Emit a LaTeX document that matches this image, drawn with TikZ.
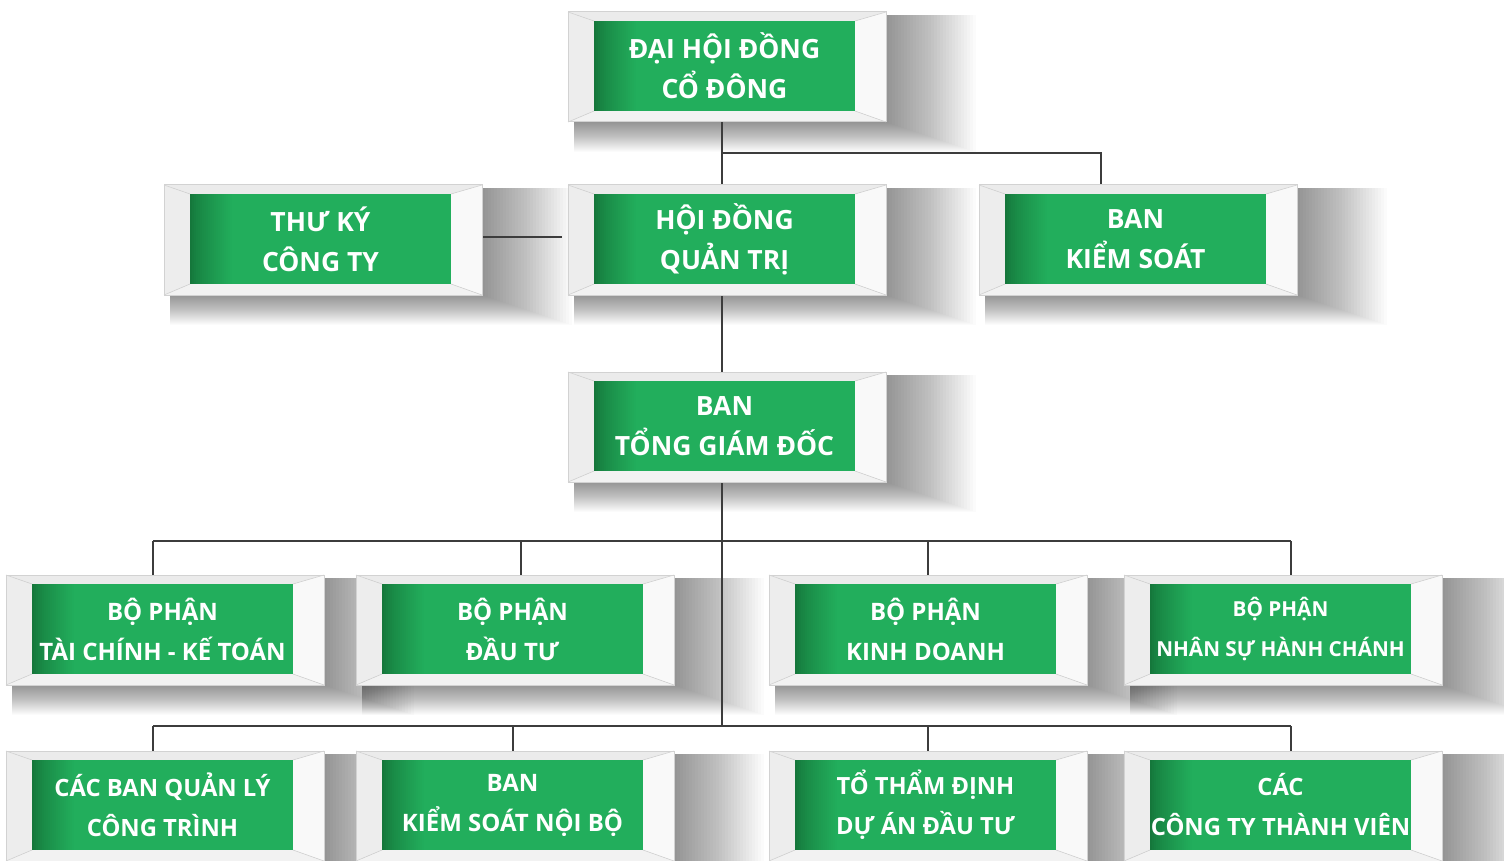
\documentclass[tikz,border=0pt]{standalone}
\usepackage{fontspec}
\setmainfont{Open Sans}
\usetikzlibrary{calc}
\pgfdeclarelayer{bg}
\pgfdeclarelayer{shadow}
\pgfdeclarelayer{lines}
\pgfsetlayers{bg,shadow,lines,main}
\definecolor{gmain}{HTML}{22AE5C}
\definecolor{gdark}{HTML}{15773B}
\definecolor{conncol}{HTML}{3C3C3C}
\definecolor{ftop}{HTML}{EBEBEB}
\definecolor{fright}{HTML}{F9F9F9}
\definecolor{fbottom}{HTML}{F2F2F2}
\definecolor{fleft}{HTML}{EDEDED}
\definecolor{fline}{HTML}{D2D2D2}
\tikzset{
  outerbox/.style={minimum width=318pt, minimum height=110pt, inner sep=0pt, outer sep=0pt},
  greenbox/.style={fill=gmain, minimum width=261pt, minimum height=90pt, inner sep=0pt, outer sep=0pt},
  connector/.style={draw=conncol, line width=2.4pt},
  boxtext/.style={text=white, align=center, inner sep=0pt},
  shadowpiece/.style={fill=black, opacity=0.017},
  bevel/.style={draw=fline, line width=0.6pt},
}
% name, innerX, innerY, fontsize, text
\newcommand\orgbox[5]{%
  \node[outerbox] (#1) at ({#2+133},{#3+46}) {};
  \begin{pgfonlayer}{shadow}
    \foreach \k in {1,...,30}{
      \fill[shadowpiece] ($(#1.north west)+(6,3)$) rectangle ($(#1.south east)+({3*\k},{\k})$);
    }
  \end{pgfonlayer}
  \coordinate (#1-ia) at (#2,#3);
  \coordinate (#1-ib) at ({#2+261},#3);
  \coordinate (#1-ic) at ({#2+261},{#3+90});
  \coordinate (#1-id) at (#2,{#3+90});
  \fill[ftop] (#1.north west) -- (#1.north east) -- (#1-ib) -- (#1-ia) -- cycle;
  \fill[fright] (#1.north east) -- (#1.south east) -- (#1-ic) -- (#1-ib) -- cycle;
  \fill[fbottom] (#1.south east) -- (#1.south west) -- (#1-id) -- (#1-ic) -- cycle;
  \fill[fleft] (#1.south west) -- (#1.north west) -- (#1-ia) -- (#1-id) -- cycle;
  \draw[bevel] (#1.north west) -- (#1-ia) (#1.north east) -- (#1-ib)
               (#1.south east) -- (#1-ic) (#1.south west) -- (#1-id);
  \draw[draw=fline, line width=1pt] (#1.north west) rectangle (#1.south east);
  \node[greenbox] (#1g) at ({#2+130.5},{#3+45}) {};
  \foreach \i in {0,...,21}{
    \pgfmathtruncatemacro\pp{100*(\i/21)^0.75}
    \fill[gmain!\pp!gdark] ($(#1-ia)+({2*\i},0)$) rectangle ($(#1-id)+({2*\i+2.3},0)$);
  }
  \node[boxtext, font=\fontsize{#4pt}{40pt}\selectfont\bfseries] (#1t) at (#1g) {#5};
}
\begin{document}
\begin{tikzpicture}[x=1pt, y=-1pt]
\useasboundingbox (0,0) rectangle (1504,861);
\begin{pgfonlayer}{bg}
\fill[white] (0,0) rectangle (1504,861);
\end{pgfonlayer}

\orgbox{dh}{594}{21}{26.5}{ĐẠI HỘI ĐỒNG\\CỔ ĐÔNG}
\orgbox{tk}{190}{194}{26.5}{THƯ KÝ\\CÔNG TY}
\orgbox{hd}{594}{194}{26.5}{HỘI ĐỒNG\\QUẢN TRỊ}
\orgbox{bks}{1005}{194}{26.5}{BAN\\KIỂM SOÁT}
\orgbox{tgd}{594}{381}{26.5}{BAN\\TỔNG GIÁM ĐỐC}
\orgbox{tc}{32}{584}{24}{BỘ PHẬN\\TÀI CHÍNH - KẾ TOÁN}
\orgbox{dt}{382}{584}{24}{BỘ PHẬN\\ĐẦU TƯ}
\orgbox{kd}{795}{584}{24}{BỘ PHẬN\\KINH DOANH}
\orgbox{ns}{1150}{584}{20.7}{BỘ PHẬN\\NHÂN SỰ HÀNH CHÁNH}
\orgbox{ql}{32}{760}{23.8}{CÁC BAN QUẢN LÝ\\CÔNG TRÌNH}
\orgbox{ksnb}{382}{760}{24}{BAN\\KIỂM SOÁT NỘI BỘ}
\orgbox{td}{795}{760}{23.7}{TỔ THẨM ĐỊNH\\DỰ ÁN ĐẦU TƯ}
\orgbox{ct}{1150}{760}{23.8}{CÁC\\CÔNG TY THÀNH VIÊN}

\begin{pgfonlayer}{lines}
  \coordinate (busTop) at (722,153);
  \coordinate (busA) at (153,541);
  \coordinate (busAR) at (1291,541);
  \coordinate (busB) at (153,726);
  \coordinate (busBR) at (1291,726);
  \draw[connector] ([xshift=-5]dh.south) -- ([xshift=-5]hd.north);
  \draw[connector] ([xshift=-5]hd.south) -- ([xshift=-5]tgd.north);
  \draw[connector] (busTop) -| ([xshift=-37]bks.north);
  \draw[connector, shorten >=6pt] ([yshift=3]tk.east) -- ([yshift=3]hd.west);
  \draw[connector] ([xshift=-5]tgd.south) -- ([xshift=-5]tgd.south |- busB);
  \draw[connector] (busA) -- (busAR);
  \draw[connector] (busB) -- (busBR);
  \draw[connector] ([xshift=-12]tc.north) -- ([xshift=-12]tc.north |- busA);
  \draw[connector] ([xshift=6]dt.north) -- ([xshift=6]dt.north |- busA);
  \draw[connector] (kd.north) -- (kd.north |- busA);
  \draw[connector] ([xshift=8]ns.north) -- ([xshift=8]ns.north |- busA);
  \draw[connector] ([xshift=-12]ql.north) -- ([xshift=-12]ql.north |- busB);
  \draw[connector] ([xshift=-2]ksnb.north) -- ([xshift=-2]ksnb.north |- busB);
  \draw[connector] (td.north) -- (td.north |- busB);
  \draw[connector] ([xshift=8]ct.north) -- ([xshift=8]ct.north |- busB);
\end{pgfonlayer}
\end{tikzpicture}
\end{document}
